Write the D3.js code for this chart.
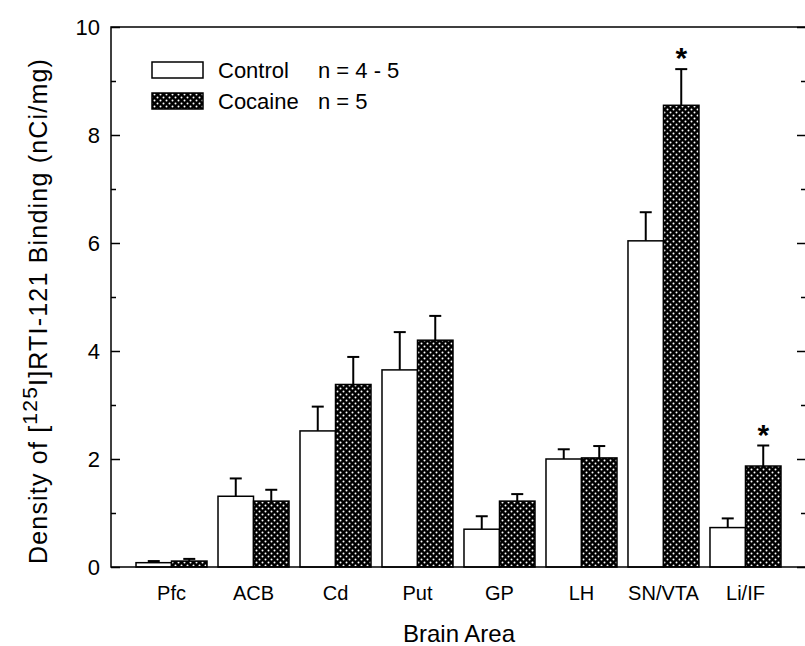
<!DOCTYPE html>
<html>
<head>
<meta charset="utf-8">
<script src="https://cdn.jsdelivr.net/npm/d3@7"></script>
<style>
  body { margin: 0; background: #fff; }
  text { font-family: Arial, "Liberation Sans", sans-serif; fill: #000; }
</style>
</head>
<body>
<div class="chart"></div>
<script>
// data
var areas = ["Pfc", "ACB", "Cd", "Put", "GP", "LH", "SN/VTA", "Li/IF"];
var control = [0.08, 1.31, 2.52, 3.65, 0.70, 2.00, 6.04, 0.73];
var controlSE = [0.03, 0.33, 0.45, 0.70, 0.24, 0.18, 0.53, 0.17];
var cocaine = [0.11, 1.22, 3.38, 4.20, 1.22, 2.02, 8.55, 1.87];
var cocaineSE = [0.04, 0.21, 0.51, 0.45, 0.13, 0.22, 0.67, 0.38];
var starred = ["SN/VTA", "Li/IF"];
var yTicks = [0, 2, 4, 6, 8, 10];
var legendRows = [
  { name: "Control", n: "n = 4 - 5" },
  { name: "Cocaine", n: "n = 5" }
];

var width = 805, height = 646;
var plotL = 111, plotR = 806, plotT = 27, plotB = 567;

var svg = d3.select(".chart").append("svg")
  .attr("width", width)
  .attr("height", height);

// checker-dot pattern for cocaine bars
var defs = svg.append("defs");
var pat = defs.append("pattern")
  .attr("id", "dots")
  .attr("patternUnits", "userSpaceOnUse")
  .attr("width", 6).attr("height", 6);
pat.append("rect").attr("width", 6).attr("height", 6).attr("fill", "#000");
pat.append("circle").attr("cx", 1.5).attr("cy", 1.5).attr("r", 1.0).attr("fill", "#fff");
pat.append("circle").attr("cx", 4.5).attr("cy", 4.5).attr("r", 1.0).attr("fill", "#fff");

var x = d3.scaleBand().domain(areas).range([plotL, plotR])
  .paddingInner(0.134).paddingOuter(0.305);
var xs = d3.scaleBand().domain(["control", "cocaine"]).range([0, x.bandwidth()]);
var y = d3.scaleLinear().domain([0, 10]).range([plotB, plotT]);

var rows = areas.map(function(a, i) {
  return [
    { area: a, group: "control", v: control[i], se: controlSE[i] },
    { area: a, group: "cocaine", v: cocaine[i], se: cocaineSE[i] }
  ];
});
var bars = [].concat.apply([], rows);

// error bars (upper only) drawn first
var err = svg.append("g").attr("class", "err");
bars.forEach(function(d) {
  var cx = x(d.area) + xs(d.group) + xs.bandwidth() / 2;
  err.append("line")
    .attr("x1", cx).attr("x2", cx)
    .attr("y1", y(d.v)).attr("y2", y(d.v + d.se))
    .attr("stroke", "#000").attr("stroke-width", 2);
  err.append("line")
    .attr("x1", cx - 6).attr("x2", cx + 6)
    .attr("y1", y(d.v + d.se)).attr("y2", y(d.v + d.se))
    .attr("stroke", "#000").attr("stroke-width", 2);
});

svg.selectAll("rect.bar")
  .data(bars)
  .enter().append("rect")
  .attr("class", "bar")
  .attr("x", function(d) { return x(d.area) + xs(d.group); })
  .attr("y", function(d) { return y(d.v); })
  .attr("width", xs.bandwidth())
  .attr("height", function(d) { return y(0) - y(d.v); })
  .attr("fill", function(d) { return d.group == "control" ? "#fff" : "url(#dots)"; })
  .attr("stroke", "#000")
  .attr("stroke-width", 1.5);

// asterisks
svg.selectAll("text.star")
  .data(bars.filter(function(d) { return d.group == "cocaine" && starred.indexOf(d.area) >= 0; }))
  .enter().append("text")
  .attr("class", "star")
  .attr("x", function(d) { return x(d.area) + xs("cocaine") + xs.bandwidth() / 2; })
  .attr("y", function(d) { return y(d.v + d.se) - 1; })
  .attr("text-anchor", "middle")
  .style("font-size", "30px")
  .style("font-weight", "bold")
  .text("*");

// frame
svg.append("path")
  .attr("d", "M" + plotR + "," + plotT + "H" + plotL + "V" + plotB + "H" + plotR)
  .attr("fill", "none").attr("stroke", "#000").attr("stroke-width", 1.5);

// left axis, ticks inward
svg.append("g")
  .attr("transform", "translate(" + plotL + ",0)")
  .call(d3.axisRight(y).tickValues(yTicks).tickSize(9).tickFormat(""))
  .call(function(g) { g.select(".domain").remove(); });
svg.append("g")
  .attr("transform", "translate(" + plotL + ",0)")
  .call(d3.axisRight(y).tickValues([1, 3, 5, 7, 9]).tickSize(5).tickFormat(""))
  .call(function(g) { g.select(".domain").remove(); });

svg.selectAll("text.ytick")
  .data(yTicks)
  .enter().append("text")
  .attr("class", "ytick")
  .attr("x", plotL - 11)
  .attr("y", function(d) { return y(d); })
  .attr("dy", "0.36em")
  .attr("text-anchor", "end")
  .style("font-size", "22px")
  .text(function(d) { return d; });

// right axis, ticks inward
svg.append("g")
  .attr("transform", "translate(" + plotR + ",0)")
  .call(d3.axisLeft(y).tickValues(yTicks).tickSize(9).tickFormat(""))
  .call(function(g) { g.select(".domain").remove(); });
svg.append("g")
  .attr("transform", "translate(" + plotR + ",0)")
  .call(d3.axisLeft(y).tickValues([1, 3, 5, 7, 9]).tickSize(5).tickFormat(""))
  .call(function(g) { g.select(".domain").remove(); });
svg.selectAll(".tick line").attr("stroke", "#000").attr("stroke-width", 1.5);

// x labels
svg.selectAll("text.xlab")
  .data(areas)
  .enter().append("text")
  .attr("class", "xlab")
  .attr("x", function(d) { return x(d) + x.bandwidth() / 2; })
  .attr("y", 600)
  .attr("text-anchor", "middle")
  .style("font-size", "20px")
  .text(function(d) { return d; });

svg.append("text")
  .attr("x", 459).attr("y", 642)
  .attr("text-anchor", "middle")
  .style("font-size", "24px")
  .text("Brain Area");

var yt = svg.append("text")
  .attr("transform", "translate(47,311) rotate(-90)")
  .attr("text-anchor", "middle")
  .style("font-size", "25px")
  .style("letter-spacing", "1.2px");
yt.append("tspan").text("Density of [");
yt.append("tspan").attr("dy", -10).style("font-size", "21px").text("125");
yt.append("tspan").attr("dy", 10).text("I]RTI-121 Binding (nCi/mg)");

// legend
var leg = svg.append("g").attr("class", "legend");
legendRows.forEach(function(r, i) {
  var ly = 62 + i * 31;
  leg.append("rect")
    .attr("x", 152).attr("y", ly)
    .attr("width", 51).attr("height", 16)
    .attr("fill", i == 0 ? "#fff" : "url(#dots)")
    .attr("stroke", "#000").attr("stroke-width", 1.5);
  leg.append("text")
    .attr("x", 218).attr("y", ly + 8).attr("dy", "0.36em")
    .style("font-size", "22px").text(r.name);
  leg.append("text")
    .attr("x", 318).attr("y", ly + 8).attr("dy", "0.36em")
    .style("font-size", "22px").text(r.n);
});
</script>
</body>
</html>
